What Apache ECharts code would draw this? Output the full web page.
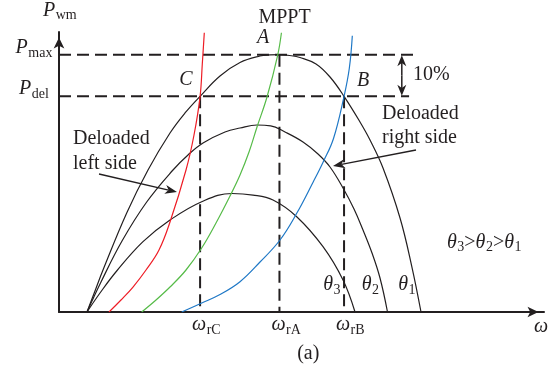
<!DOCTYPE html>
<html><head><meta charset="utf-8">
<script src="https://cdn.jsdelivr.net/npm/echarts@6/dist/echarts.min.js"></script>
<style>html,body{margin:0;padding:0;background:#fff}#c{width:557px;height:378px}</style>
</head><body><div id="c"></div>
<script>
// ---- data (omega in p.u. of omega_rA, power in p.u. of Pmax) ----
const theta1Curve = [[0.127,0],[0.1633,0.0816],[0.1996,0.1632],[0.3071,0.3847],[0.4037,0.5518],[0.5035,0.6955],[0.5716,0.7733],[0.64,0.838],[0.7303,0.917],[0.8211,0.9695],[0.9118,0.9947],[0.957,0.9988],[1.0,1.0],[1.0456,0.9968],[1.0932,0.9889],[1.1658,0.9637],[1.2293,0.9131],[1.293,0.838],[1.3654,0.7383],[1.4108,0.6683],[1.4697,0.5595],[1.5469,0.3653],[1.5999,0.1787],[1.6421,0]];
const theta2Curve = [[0.127,0],[0.1905,0.1166],[0.2858,0.2759],[0.3978,0.4274],[0.5171,0.5518],[0.5852,0.6101],[0.6532,0.6567],[0.753,0.6994],[0.8211,0.715],[0.8982,0.7266],[0.96,0.7235],[1.0252,0.6994],[1.1068,0.6606],[1.1749,0.6139],[1.2293,0.5634],[1.2883,0.4818],[1.3382,0.4002],[1.379,0.3186],[1.4198,0.2293],[1.4561,0.1321],[1.4901,0]];
const theta3Curve = [[0.127,0],[0.186,0.0738],[0.2617,0.1593],[0.381,0.2732],[0.5035,0.3575],[0.6473,0.4286],[0.7848,0.4605],[0.88,0.4545],[0.9707,0.4352],[1.0783,0.3703],[1.1976,0.2537],[1.2883,0.1243],[1.3427,0]];
const leftDeloadCurve = [[0.2268,0],[0.2812,0.0466],[0.3357,0.0971],[0.3947,0.1632],[0.4536,0.2409],[0.5035,0.3497],[0.5761,0.5518],[0.6124,0.6878],[0.64,0.838],[0.65,0.9637],[0.6591,1.085]];
const mpptCurve = [[0.3751,0],[0.44,0.0466],[0.5035,0.0971],[0.5761,0.1632],[0.6473,0.2487],[0.7122,0.3458],[0.7757,0.4507],[0.8211,0.5324],[0.8619,0.6217],[0.8982,0.7189],[0.9435,0.8354],[0.9921,0.9986],[1.009,1.085]];
const rightDeloadCurve = [[0.5566,0],[0.6473,0.035],[0.7303,0.068],[0.8211,0.1177],[0.9118,0.1943],[1.0025,0.2798],[1.0783,0.3835],[1.1536,0.5063],[1.1989,0.584],[1.2452,0.6742],[1.293,0.838],[1.3169,0.947],[1.3305,1.0736]];

const powerTickValues = [1.0, 0.838];
const powerTickSubs = ['max', 'del'];
const powerDashEnds = [1.606, 1.588];
const omegaTickValues = [0.64, 1.0, 1.293];
const omegaTickSubs = ['rC', 'rA', 'rB'];
const omegaDashTops = [0.838, 1.0, 0.838];
const marginArrowOmega = 1.555;

// ---- styles ----
const INK = '#231f20';
const FAM = '"Liberation Serif", "Times New Roman", serif';
const chart = echarts.init(document.getElementById('c'), null, {renderer: 'canvas'});

const dashStyle = {color: INK, width: 2, type: [12, 6]};
function lineSeries(data, color, width, dashed) {
  return {
    type: 'line', data: data, showSymbol: false, symbol: 'none', silent: true,
    smooth: dashed ? false : 0.4,
    lineStyle: dashed ? dashStyle : {color: color, width: width},
    z: dashed ? 2 : 3
  };
}
const series = [];
powerTickValues.forEach((p, i) => series.push(lineSeries([[0, p], [powerDashEnds[i], p]], INK, 2, true)));
omegaTickValues.forEach((w, i) => series.push(lineSeries([[w, omegaDashTops[i]], [w, 0]], INK, 2, true)));
series.push(lineSeries(theta1Curve, INK, 1.2));
series.push(lineSeries(theta2Curve, INK, 1.2));
series.push(lineSeries(theta3Curve, INK, 1.2));
series.push(lineSeries(leftDeloadCurve, '#ee1c25', 1.2));
series.push(lineSeries(mpptCurve, '#56bb48', 1.2));
series.push(lineSeries(rightDeloadCurve, '#1f78c6', 1.2));

chart.setOption({
  animation: false,
  backgroundColor: '#fff',
  grid: {left: 59, top: 32, width: 485, height: 280, containLabel: false, outerBoundsMode: 'none'},
  xAxis: {
    type: 'value', min: 0, max: 2.2,
    axisLine: {show: true, onZero: false, lineStyle: {color: INK, width: 2}, symbol: ['none', 'arrow'], symbolSize: [8, 11], symbolOffset: [0, -5.5]},
    axisTick: {show: false}, axisLabel: {show: false}, splitLine: {show: false}
  },
  yAxis: {
    type: 'value', min: 0, max: 1.088,
    axisLine: {show: true, onZero: false, lineStyle: {color: INK, width: 2}, symbol: ['none', 'arrow'], symbolSize: [8, 11], symbolOffset: [0, -5.5]},
    axisTick: {show: false}, axisLabel: {show: false}, splitLine: {show: false}
  },
  series: series
});

// ---- annotations ----
const mctx = document.createElement('canvas').getContext('2d');
function fontStr(size, italic) { return (italic ? 'italic ' : '') + size + 'px ' + FAM; }
function tw(text, size, italic) { mctx.font = fontStr(size, italic); return mctx.measureText(text).width; }
function T(x, base, text, size, italic, align) {
  return {type: 'text', x: x, y: base - 0.3375 * size, silent: true, z: 10,
    style: {text: text, font: fontStr(size, italic), fill: INK, align: align || 'left', verticalAlign: 'middle',
      textAlign: align || 'left', textVerticalAlign: 'middle'}};
}
// parts: [text, kind] kind: 'i' italic main, 'r' roman main, 's' subscript
function seq(x, base, parts) {
  const out = []; let cx = x;
  parts.forEach(([t, k]) => {
    const size = k === 's' ? 14 : 20, it = k === 'i';
    const b = k === 's' ? base + 3.5 : base;
    out.push(T(cx, b, t, size, it));
    cx += tw(t, size, it) + (k === 'i' ? 0.5 : 0);
  });
  return out;
}
function seqWidth(parts) {
  return parts.reduce((a, [t, k]) => a + tw(t, k === 's' ? 14 : 20, k === 'i') + (k === 'i' ? 0.5 : 0), 0);
}
function arrowHead(x1, y1, x2, y2, len, wid, lw) {
  const dx = x2 - x1, dy = y2 - y1, L = Math.hypot(dx, dy), ux = dx / L, uy = dy / L, px = -uy, py = ux;
  const bx = x2 - ux * len, by = y2 - uy * len;
  const nx = x2 - ux * len * 0.72, ny = y2 - uy * len * 0.72;
  return [
    {type: 'line', silent: true, z: 10, shape: {x1: x1, y1: y1, x2: nx, y2: ny}, style: {stroke: INK, lineWidth: lw || 1.3}},
    {type: 'polygon', silent: true, z: 10, shape: {points: [[x2, y2], [bx + px * wid / 2, by + py * wid / 2], [nx, ny], [bx - px * wid / 2, by - py * wid / 2]]}, style: {fill: INK}}
  ];
}
const P = v => chart.convertToPixel({gridIndex: 0}, v);
const origin = P([0, 0]);
const els = [];
// y axis name
els.push(...seq(43, 17, [['P', 'i'], ['wm', 's']]));
// y tick labels
powerTickValues.forEach((v, i) => {
  const parts = [['P', 'i'], [powerTickSubs[i], 's']];
  const y = P([0, v])[1];
  els.push(...seq(origin[0] - 25 - seqWidth(parts) / 2, y - 0.5, parts));
});
// x tick labels
omegaTickValues.forEach((v, i) => {
  const x = P([v, 0])[0];
  const w = tw('\u03c9', 20, true);
  els.push(...seq(x - 1 - w / 2, origin[1] + 19.5, [['\u03c9', 'i'], [omegaTickSubs[i], 's']]));
});
// x axis name
els.push(T(541, 333.3, '\u03c9', 20, true, 'center'));
// texts
els.push(T(284.5, 24, 'MPPT', 20, false, 'center'));
els.push(T(263, 44.3, 'A', 20, true, 'center'));
els.push(T(186, 86.7, 'C', 20, true, 'center'));
els.push(T(363, 87.7, 'B', 20, true, 'center'));
els.push(T(413, 81.7, '10%', 20, false));
els.push(T(382, 120, 'Deloaded', 20, false));
els.push(T(382, 144, 'right side', 20, false));
els.push(T(73, 145, 'Deloaded', 20, false));
els.push(T(73, 170, 'left side', 20, false));
els.push(...seq(447, 249, [['\u03b8', 'i'], ['3', 's'], ['>', 'r'], ['\u03b8', 'i'], ['2', 's'], ['>', 'r'], ['\u03b8', 'i'], ['1', 's']]));
els.push(...seq(323.3, 291.5, [['\u03b8', 'i'], ['3', 's']]));
els.push(...seq(361.7, 291.5, [['\u03b8', 'i'], ['2', 's']]));
els.push(...seq(398.3, 291.5, [['\u03b8', 'i'], ['1', 's']]));
els.push(T(308.3, 360.5, '(a)', 20, false, 'center'));
// arrows
els.push(...arrowHead(99, 174, 177, 192, 12, 9));
els.push(...arrowHead(416, 150, 333, 166, 12, 9));
const top10 = P([marginArrowOmega, powerTickValues[0]]), bot10 = P([marginArrowOmega, powerTickValues[1]]);
const mid10 = [(top10[0] + bot10[0]) / 2, (top10[1] + bot10[1]) / 2];
els.push(...arrowHead(mid10[0], mid10[1], top10[0], top10[1] + 0.5, 11, 9, 1.5));
els.push(...arrowHead(mid10[0], mid10[1], bot10[0], bot10[1] - 0.5, 11, 9, 1.5));
chart.setOption({graphic: {elements: els}});
</script>
</body></html>
